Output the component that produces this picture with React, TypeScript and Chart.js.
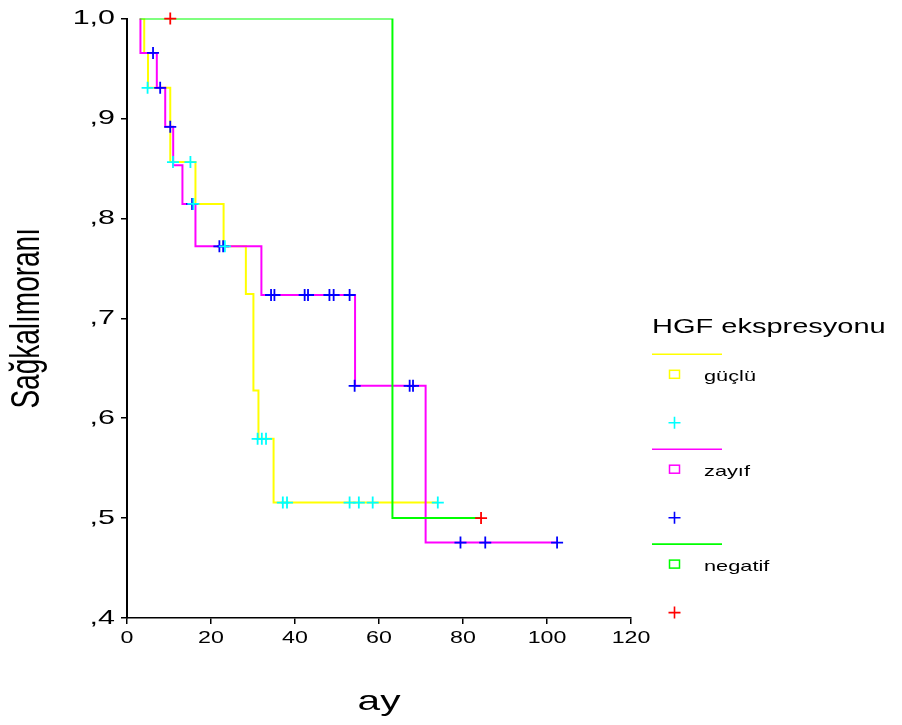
import React, { useEffect, useRef } from 'react';
import { Chart, registerables } from 'chart.js';

Chart.register(...registerables);

// ---------- data ----------
const legendTitle = 'HGF ekspresyonu';
const seriesNames = ['güçlü', 'zayıf', 'negatif'];
const xTitle = 'ay';
const yTitle = 'Sağkalımoranı';

const xTickValues = [0, 20, 40, 60, 80, 100, 120];
const xTickLabels = ['0', '20', '40', '60', '80', '100', '120'];
const yTickValues = [0.4, 0.5, 0.6, 0.7, 0.8, 0.9, 1.0];
const yTickLabels = [',4', ',5', ',6', ',7', ',8', ',9', '1,0'];

// güçlü (strong)
const gucluTime = [3.0, 4.1, 5.0, 10.3, 16.3, 23.0, 28.3, 30.1, 31.3, 34.9, 74.0];
const gucluSurv = [1.0, 0.9656, 0.9307, 0.8564, 0.8145, 0.772, 0.7243, 0.6277, 0.5794, 0.5155, 0.5155];
const gucluCensTime = [4.9, 10.95, 15.1, 15.8, 23.3, 31.1, 32.1, 33.1, 37.1, 38.1, 53.0, 55.2, 58.5, 74.0];
const gucluCensSurv = [0.9307, 0.8564, 0.8564, 0.8145, 0.772, 0.5794, 0.5794, 0.5794, 0.5155, 0.5155, 0.5155, 0.5155, 0.5155, 0.5155];

// zayıf (weak)
const zayifTime = [3.0, 3.2, 7.1, 9.1, 11.0, 13.2, 16.3, 32.0, 54.3, 71.1, 102.4];
const zayifSurv = [1.0, 0.9656, 0.9307, 0.8917, 0.8531, 0.8145, 0.772, 0.7233, 0.6324, 0.4755, 0.4755];
const zayifCensTime = [6.2, 7.9, 10.3, 15.5, 22.0, 22.9, 34.3, 35.1, 42.3, 43.1, 48.2, 49.2, 53.0, 54.2, 67.3, 68.1, 79.4, 85.3, 102.4];
const zayifCensSurv = [0.9656, 0.9307, 0.8917, 0.8145, 0.772, 0.772, 0.7233, 0.7233, 0.7233, 0.7233, 0.7233, 0.7233, 0.7233, 0.6324, 0.6324, 0.6324, 0.4755, 0.4755, 0.4755];

// negatif
const negatifTime = [3.0, 63.2, 84.3];
const negatifSurv = [1.0, 0.5, 0.5];
const negatifCensTime = [10.3, 84.3];
const negatifCensSurv = [1.0, 0.5];

const lineColors = ['#FFFF00', '#FF00FF', '#00FF00'];
const censColors = ['#00FFFF', '#0000FF', '#FF0000'];

// ---------- helpers ----------
const SX = 1.45; // horizontal stretch of text, as in the reference
const FONT = "'Liberation Sans', Arial, Helvetica, sans-serif";

const pts = (t: number[], s: number[]) => t.map((x, i) => ({ x, y: s[i] }));

function stretchText(ctx: any) {
  if (ctx.__stretched) return;
  ctx.__stretched = true;
  const orig = ctx.fillText.bind(ctx);
  ctx.fillText = function (text: string, x: number, y: number, maxWidth?: number) {
    const m = ctx.getTransform();
    const p = m.transformPoint(new DOMPoint(x, y));
    ctx.save();
    const s = new DOMMatrix().translate(p.x, p.y).scale(SX, 1).translate(-p.x, -p.y).multiply(m);
    ctx.setTransform(s);
    if (maxWidth === undefined || maxWidth === null) orig(text, x, y);
    else orig(text, x, y, maxWidth);
    ctx.restore();
  };
}

const legendPlugin = {
  id: 'kmLegend',
  afterDraw(chart: any) {
    const ctx = chart.ctx;
    ctx.save();
    ctx.fillStyle = '#000';
    ctx.textAlign = 'left';
    ctx.textBaseline = 'middle';
    ctx.font = `20px ${FONT}`;
    ctx.fillText(legendTitle, 652, 327);

    const x0 = 652, x1 = 722, mx = 674.5;
    seriesNames.forEach((name, i) => {
      const L = 354.3 + i * 94.9;
      // line
      ctx.strokeStyle = lineColors[i];
      ctx.lineWidth = 1.6;
      ctx.beginPath();
      ctx.moveTo(x0, L);
      ctx.lineTo(x1, L);
      ctx.stroke();
      // square
      ctx.lineWidth = 1.5;
      ctx.strokeRect(mx - 5, L + 20 - 4, 10, 8);
      // label
      ctx.fillStyle = '#000';
      ctx.font = `15px ${FONT}`;
      ctx.fillText(name, 704, L + 22.5);
      // censor cross
      ctx.strokeStyle = censColors[i];
      ctx.lineWidth = 1.6;
      const cy = L + 68.5;
      ctx.beginPath();
      ctx.moveTo(mx - 6, cy);
      ctx.lineTo(mx + 6, cy);
      ctx.moveTo(mx, cy - 6);
      ctx.lineTo(mx, cy + 6);
      ctx.stroke();
    });
    ctx.restore();
  },
};

export default function App() {
  const ref = useRef<HTMLCanvasElement | null>(null);

  useEffect(() => {
    const canvas = ref.current;
    if (!canvas) return;
    const ctx = canvas.getContext('2d');
    stretchText(ctx);

    const stepLine = (label: string, t: number[], s: number[], color: string, order: number) => ({
      type: 'line',
      label,
      data: pts(t, s),
      borderColor: color,
      backgroundColor: color,
      borderWidth: 2,
      stepped: 'before',
      pointRadius: 0,
      fill: false,
      order,
    });
    const cens = (label: string, t: number[], s: number[], color: string) => ({
      type: 'line',
      label,
      data: pts(t, s),
      showLine: false,
      pointStyle: 'cross',
      pointRadius: 6,
      pointBorderWidth: 1.8,
      pointBorderColor: color,
      pointBackgroundColor: color,
      borderColor: color,
      clip: false,
      order: 0,
    });

    const chart = new Chart(canvas, {
      type: 'line',
      data: {
        datasets: [
          cens(seriesNames[0] + ' censored', gucluCensTime, gucluCensSurv, censColors[0]),
          cens(seriesNames[1] + ' censored', zayifCensTime, zayifCensSurv, censColors[1]),
          cens(seriesNames[2] + ' censored', negatifCensTime, negatifCensSurv, censColors[2]),
          stepLine(seriesNames[2], negatifTime, negatifSurv, lineColors[2], 1),
          stepLine(seriesNames[1], zayifTime, zayifSurv, lineColors[1], 2),
          stepLine(seriesNames[0], gucluTime, gucluSurv, lineColors[0], 3),
        ] as any,
      },
      options: {
        animation: false,
        responsive: false,
        maintainAspectRatio: false,
        events: [],
        layout: { padding: { left: 0, top: 17, right: 271, bottom: 0 } },
        plugins: {
          legend: { display: false },
          tooltip: { enabled: false },
        },
        scales: {
          x: {
            type: 'linear',
            min: 0,
            max: 120,
            afterBuildTicks: (scale: any) => {
              scale.ticks = xTickValues.map((v) => ({ value: v }));
            },
            afterFit: (scale: any) => {
              scale.height = 107;
            },
            ticks: {
              color: '#000',
              font: { family: FONT, size: 16 },
              padding: 5,
              maxRotation: 0,
              autoSkip: false,
              callback: (_v: any, i: number) => xTickLabels[i],
            },
            grid: { display: true, drawOnChartArea: false, drawTicks: true, tickLength: 6, color: '#000', lineWidth: 1.5 },
            border: { display: true, color: '#000', width: 1.5 },
            title: {
              display: true,
              text: xTitle,
              color: '#000',
              font: { family: FONT, size: 28 },
              padding: { top: 0, bottom: 6 },
            },
          },
          y: {
            type: 'linear',
            min: 0.4,
            max: 1.0,
            afterBuildTicks: (scale: any) => {
              scale.ticks = yTickValues.map((v) => ({ value: v }));
            },
            afterFit: (scale: any) => {
              scale.width = 127;
            },
            ticks: {
              color: '#000',
              font: { family: FONT, size: 21 },
              padding: 6,
              autoSkip: false,
              callback: (_v: any, i: number) => yTickLabels[i],
            },
            grid: { display: true, drawOnChartArea: false, drawTicks: true, tickLength: 6, color: '#000', lineWidth: 1.5 },
            border: { display: true, color: '#000', width: 2 },
            title: {
              display: true,
              text: yTitle,
              color: '#000',
              font: { family: FONT, size: 28 },
              padding: { top: 11, bottom: 0 },
            },
          },
        },
      } as any,
      plugins: [legendPlugin],
    });

    return () => {
      chart.destroy();
    };
  }, []);

  return (
    <div style={{ position: 'absolute', left: 0, top: 0, width: 902, height: 725, background: '#fff' }}>
      <canvas ref={ref} width={902} height={725} style={{ display: 'block', width: 902, height: 725 }} />
    </div>
  );
}
